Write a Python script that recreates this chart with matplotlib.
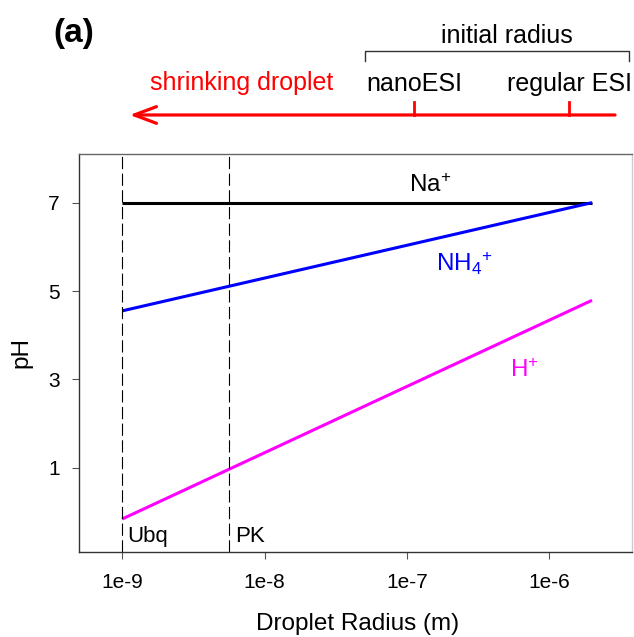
import matplotlib
matplotlib.use('Agg')
import matplotlib.pyplot as plt
import matplotlib.transforms as mtransforms

plt.rcParams['font.family'] = ['Liberation Sans', 'DejaVu Sans']
plt.rcParams['mathtext.fontset'] = 'custom'
plt.rcParams['mathtext.rm'] = 'Liberation Sans'
plt.rcParams['mathtext.it'] = 'Liberation Sans:italic'
plt.rcParams['mathtext.bf'] = 'Liberation Sans:bold'

# droplet radius (m) and pH curves
radius = [1e-9, 2e-6]
ph_na = [7.0, 7.0]
ph_nh4 = [4.55, 7.0]
ph_h = [-0.16, 4.79]

# protein size markers
marker_names = ['Ubq', 'PK']
marker_radius = [1e-9, 5.66e-9]

# initial radius of the two sources
source_names = ['nanoESI', 'regular ESI']
source_radius = [1.13e-7, 1.38e-6]

xticks = [1e-9, 1e-8, 1e-7, 1e-6]
xticklabels = ['1e-9', '1e-8', '1e-7', '1e-6']
yticks = [1, 3, 5, 7]

fig = plt.figure(figsize=(6.34, 6.37), dpi=100)
ax = fig.add_axes([0.1251, 0.1339, 0.8713, 0.6243])

ax.plot(radius, ph_na, color='black', lw=2.2, solid_capstyle='butt')
ax.plot(radius, ph_nh4, color='#0000ff', lw=2.2, solid_capstyle='butt')
ax.plot(radius, ph_h, color='#ff00ff', lw=2.2, solid_capstyle='butt')

for r in marker_radius:
    ax.axvline(r, color='black', lw=0.8, ls=(0, (11, 4)))

ax.set_xscale('log')
ax.set_xlim(5e-10, 3.8e-6)
ax.set_ylim(-0.9, 8.1)
ax.set_xticks(xticks)
ax.set_xticklabels(xticklabels)
ax.xaxis.set_minor_locator(matplotlib.ticker.NullLocator())
ax.set_yticks(yticks)
ax.tick_params(labelsize=15, length=5, width=0.8, color='#555555', direction='out')
ax.tick_params(axis='x', pad=10)
ax.tick_params(axis='y', pad=9)

ax.spines['left'].set_color('#333333')
ax.spines['bottom'].set_color('#333333')
ax.spines['top'].set_color('#666666')
ax.spines['right'].set_color('#cccccc')
for s in ax.spines.values():
    s.set_linewidth(1.0)

ax.set_xlabel('Droplet Radius (m)', fontsize=17.5)
ax.set_ylabel('pH', fontsize=17.5)
ax.xaxis.set_label_coords(0.504, -0.155)
ax.yaxis.set_label_coords(-0.084, 0.5)

# line labels
ax.text(1.03e-7, 7.24, 'Na$^{+}$', fontsize=17.5, color='black', va='baseline')
ax.text(1.6e-7, 5.44, 'NH$_{4}$$^{+}$', fontsize=17.5, color='#0000ff', va='baseline')
ax.text(5.3e-7, 3.05, 'H$^{+}$', fontsize=17.5, color='#ff00ff', va='baseline')

ax.text(1.09e-9, -0.675, marker_names[0], fontsize=16, va='baseline')
ax.text(6.26e-9, -0.675, marker_names[1], fontsize=16, va='baseline')

# annotations above the plot: x in data units, y in figure fraction
trans = mtransforms.blended_transform_factory(ax.transData, fig.transFigure)

ax.annotate('', xy=(1.13e-9, 0.8195), xytext=(2.9e-6, 0.8195),
            xycoords=trans, textcoords=trans, annotation_clip=False,
            arrowprops=dict(arrowstyle='->,head_length=0.8,head_width=0.3',
                            color='#ff0000', lw=2.3, mutation_scale=20,
                            shrinkA=0, shrinkB=0))
for r in source_radius:
    ax.plot([r, r], [0.8195, 0.8403], color='#ff0000', lw=2.0,
            transform=trans, clip_on=False)
for name, r in zip(source_names, source_radius):
    ax.text(r, 0.857, name, fontsize=18, ha='center', va='baseline',
            transform=trans)

ax.text(1.57e-9, 0.8587, 'shrinking droplet', fontsize=18, color='#ff0000',
        va='baseline', transform=trans)

ax.plot([5.08e-8, 5.08e-8, 3.66e-6, 3.66e-6], [0.9047, 0.9199, 0.9199, 0.9047],
        color='#333333', lw=1.0, transform=trans, clip_on=False)
ax.text(5.07e-7, 0.9325, 'initial radius', fontsize=18, ha='center',
        va='baseline', transform=trans)

fig.text(53 / 634, 0.947, '(a)', fontsize=24, fontweight='bold', va='center')

fig.savefig('out.png', dpi=100)
